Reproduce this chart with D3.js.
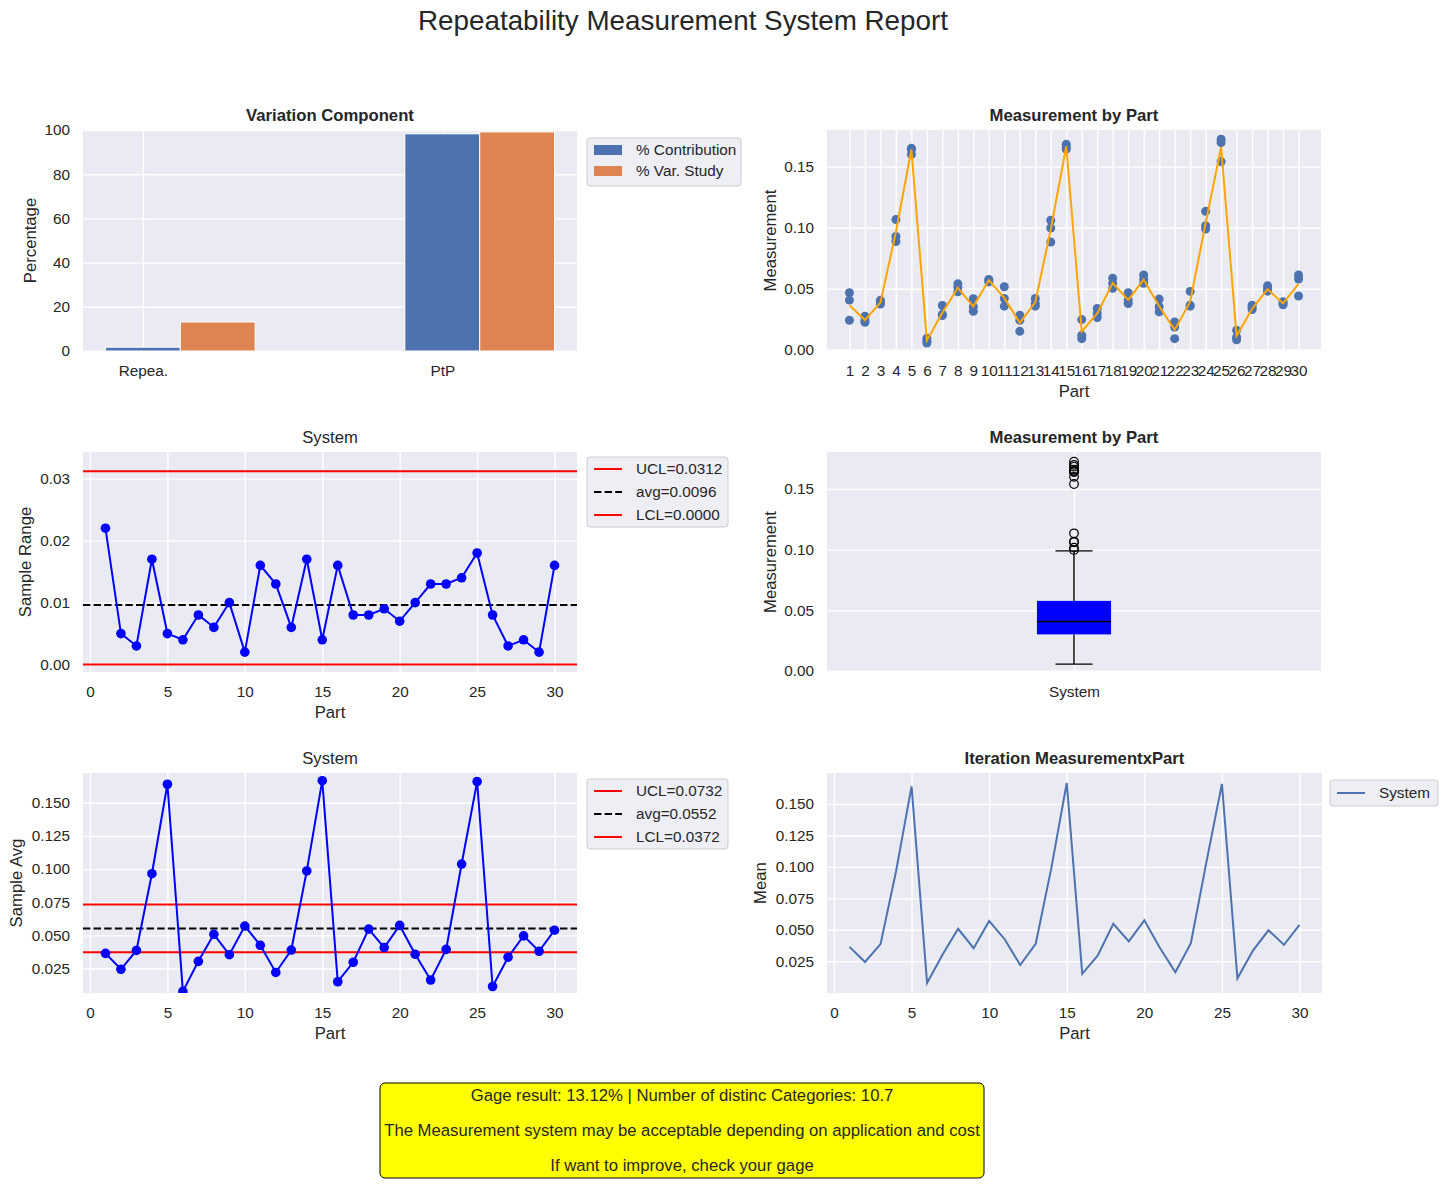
<!DOCTYPE html>
<html>
<head>
<meta charset="utf-8">
<script src="https://cdn.jsdelivr.net/npm/d3@7"></script>
<style>
  body { margin: 0; background: #fff; }
  svg text { font-family: "Liberation Sans", Arial, sans-serif; fill: #262626; }
</style>
</head>
<body>
<svg id="chart" width="1445" height="1184"></svg>
<script>
// ---- data ----
const components = ["Repea.", "PtP"];
const pctContribution = [1.72, 98.28];
const pctVarStudy = [13.12, 99.14];

const parts = [1, 2, 3, 4, 5, 6, 7, 8, 9, 10, 11, 12, 13, 14, 15, 16, 17, 18, 19, 20, 21, 22, 23, 24, 25, 26, 27, 28, 29, 30];

// three readings per part
const trialA = [0.0467, 0.0275, 0.0405, 0.1066, 0.1650, 0.0095, 0.0363, 0.0540, 0.0418, 0.0576,
                0.0516, 0.0283, 0.0420, 0.1060, 0.1684, 0.0247, 0.0338, 0.0585, 0.0467, 0.0613,
                0.0415, 0.0228, 0.0478, 0.1134, 0.1725, 0.0159, 0.0365, 0.0525, 0.0393, 0.0613];
const trialB = [0.0407, 0.0240, 0.0385, 0.0928, 0.1640, 0.0070, 0.0290, 0.0511, 0.0352, 0.0566,
                0.0420, 0.0242, 0.0380, 0.0997, 0.1660, 0.0118, 0.0297, 0.0544, 0.0407, 0.0577,
                0.0352, 0.0187, 0.0365, 0.1016, 0.1698, 0.0104, 0.0345, 0.0500, 0.0380, 0.0580];
const trialC = [0.0242, 0.0225, 0.0375, 0.0887, 0.1600, 0.0055, 0.0280, 0.0475, 0.0315, 0.0556,
                0.0357, 0.0151, 0.0357, 0.0882, 0.1643, 0.0091, 0.0264, 0.0503, 0.0379, 0.0544,
                0.0310, 0.0091, 0.0357, 0.0989, 0.1541, 0.0082, 0.0330, 0.0480, 0.0368, 0.0440];

const sampleRange = [0.022, 0.005, 0.003, 0.017, 0.005, 0.004, 0.008, 0.006, 0.010, 0.002,
                     0.016, 0.013, 0.006, 0.017, 0.004, 0.016, 0.008, 0.008, 0.009, 0.007,
                     0.010, 0.013, 0.013, 0.014, 0.018, 0.008, 0.003, 0.004, 0.002, 0.016];
const sampleAvg = [0.0364, 0.0244, 0.0386, 0.0965, 0.1640, 0.0077, 0.0304, 0.0508, 0.0354, 0.0570,
                   0.0425, 0.0220, 0.0389, 0.0986, 0.1667, 0.0150, 0.0297, 0.0547, 0.0408, 0.0575,
                   0.0357, 0.0163, 0.0394, 0.1038, 0.1660, 0.0114, 0.0335, 0.0496, 0.0380, 0.0539];

const rangeLimits = { ucl: 0.0312, avg: 0.0096, lcl: 0.0000 };
const avgLimits = { ucl: 0.0732, avg: 0.0552, lcl: 0.0372 };

const reportLines = [
    "Gage result: 13.12% | Number of distinc Categories: 10.7",
    "The Measurement system may be acceptable depending on application and cost",
    "If want to improve, check your gage"
];

// ---- style ----
const BLUE = "#4C72B0", ORANGE = "#DD8452", BG = "#EAEAF2";
const TICK_FS = "15.3px", LABEL_FS = "16.7px";

const svg = d3.select("#chart");
let clipId = 0;

function styleAxis(sel) {
    sel.attr("font-size", null).attr("font-family", null);
    sel.select(".domain").remove();
    sel.selectAll(".tick line").attr("stroke", "#fff").attr("stroke-width", 1.4);
    sel.selectAll(".tick text").style("font-size", TICK_FS).attr("fill", "#262626");
}

// draws background, grid and tick labels; returns group + clipped group
function makePanel(box, x, y, opt) {
    const g = svg.append("g").attr("transform", `translate(${box.left},${box.top})`);
    g.append("rect").attr("width", box.w).attr("height", box.h).attr("fill", BG);

    const xa = d3.axisBottom(x).tickSize(-box.h).tickPadding(14);
    if (opt.xTicks) xa.tickValues(opt.xTicks);
    if (opt.xFormat) xa.tickFormat(opt.xFormat);
    g.append("g").attr("transform", `translate(0,${box.h})`).call(xa).call(styleAxis);

    const ya = d3.axisLeft(y).tickSize(-box.w).tickPadding(13)
        .tickValues(opt.yTicks).tickFormat(opt.yFormat);
    g.append("g").call(ya).call(styleAxis);

    g.append("text")
        .attr("x", box.w / 2).attr("y", -9)
        .attr("text-anchor", "middle")
        .style("font-size", LABEL_FS)
        .style("font-weight", opt.bold ? "bold" : "normal")
        .text(opt.title);

    if (opt.xLabel) {
        g.append("text")
            .attr("x", box.w / 2).attr("y", box.h + 46)
            .attr("text-anchor", "middle")
            .style("font-size", LABEL_FS)
            .text(opt.xLabel);
    }
    if (opt.yLabel) {
        g.append("text")
            .attr("transform", `translate(${opt.yLabelX},${box.h / 2}) rotate(-90)`)
            .attr("text-anchor", "middle")
            .attr("dy", "0.35em")
            .style("font-size", LABEL_FS)
            .text(opt.yLabel);
    }

    const id = "clip" + (clipId++);
    g.append("clipPath").attr("id", id)
        .append("rect").attr("width", box.w).attr("height", box.h);
    const plot = g.append("g").attr("clip-path", `url(#${id})`);
    return { g, plot };
}

function legend(left, top, w, h, items, rowStart, rowStep) {
    const g = svg.append("g").attr("transform", `translate(${left},${top})`);
    g.append("rect").attr("width", w).attr("height", h).attr("rx", 3)
        .attr("fill", BG).attr("fill-opacity", 0.8)
        .attr("stroke", "#cccccc").attr("stroke-width", 1);
    items.forEach((it, i) => {
        const cy = rowStart + i * rowStep;
        if (it.type === "patch") {
            g.append("rect").attr("x", 7).attr("y", cy - 5).attr("width", 28).attr("height", 10)
                .attr("fill", it.color);
        } else {
            g.append("line").attr("x1", 7).attr("x2", 35).attr("y1", cy).attr("y2", cy)
                .attr("stroke", it.color).attr("stroke-width", 2)
                .attr("stroke-dasharray", it.dash || null);
        }
        g.append("text").attr("x", 49).attr("y", cy).attr("dy", "0.35em")
            .style("font-size", TICK_FS).text(it.label);
    });
}

// ---- suptitle ----
svg.append("text")
    .attr("x", 683).attr("y", 30)
    .attr("text-anchor", "middle")
    .style("font-size", "27.8px")
    .text("Repeatability Measurement System Report");

const fmt2 = d3.format(".2f"), fmt3 = d3.format(".3f");
const partX = (box) => d3.scaleLinear().domain([-0.45, 31.45]).range([0, box.w]);

// ---- 1. Variation Component ----
{
    const box = { left: 83, top: 130, w: 494, h: 221 };
    const x = d3.scaleLinear().domain([-0.2, 1.45]).range([0, box.w]);
    const y = d3.scaleLinear().domain([0, 100]).range([box.h, 0]);
    const { plot } = makePanel(box, x, y, {
        xTicks: [0, 1], xFormat: i => components[i],
        yTicks: [0, 20, 40, 60, 80, 100], yFormat: d3.format("d"),
        title: "Variation Component", bold: true,
        yLabel: "Percentage", yLabelX: -53
    });
    const bw = 0.25;
    const series = [
        { vals: pctContribution, off: 0, color: BLUE },
        { vals: pctVarStudy, off: bw, color: ORANGE }
    ];
    series.forEach(s => {
        plot.selectAll(null).data(s.vals).join("rect")
            .attr("x", (d, i) => x(i + s.off - bw / 2))
            .attr("width", x(bw) - x(0))
            .attr("y", d => y(d))
            .attr("height", d => y(0) - y(d))
            .attr("fill", s.color)
            .attr("stroke", "#fff").attr("stroke-width", 1);
    });
    legend(587, 138, 154, 48, [
        { type: "patch", color: BLUE, label: "% Contribution" },
        { type: "patch", color: ORANGE, label: "% Var. Study" }
    ], 12, 21);
}

// ---- 2. Measurement by Part (scatter) ----
{
    const box = { left: 827, top: 130, w: 494, h: 221 };
    const x = partX(box);
    const y = d3.scaleLinear().domain([-0.001, 0.180]).range([box.h, 0]);
    const { plot } = makePanel(box, x, y, {
        xTicks: parts, xFormat: d3.format("d"),
        yTicks: [0, 0.05, 0.10, 0.15], yFormat: fmt2,
        title: "Measurement by Part", bold: true,
        xLabel: "Part", yLabel: "Measurement", yLabelX: -57
    });
    [trialA, trialB, trialC].forEach(tr => {
        plot.selectAll(null).data(tr).join("circle")
            .attr("cx", (d, i) => x(parts[i]))
            .attr("cy", d => y(d))
            .attr("r", 4.5)
            .attr("fill", BLUE);
    });
    plot.append("path")
        .datum(sampleAvg)
        .attr("fill", "none").attr("stroke", "#FFA500").attr("stroke-width", 2)
        .attr("d", d3.line().x((d, i) => x(parts[i])).y(d => y(d)));
}

// ---- control chart helper ----
function controlChart(box, domain, yTicks, yFormat, vals, limits, yLabel, yLabelX, legTop, legLabels) {
    const x = partX(box);
    const y = d3.scaleLinear().domain(domain).range([box.h, 0]);
    const { plot } = makePanel(box, x, y, {
        xTicks: [0, 5, 10, 15, 20, 25, 30], xFormat: d3.format("d"),
        yTicks, yFormat,
        title: "System", bold: false,
        xLabel: "Part", yLabel, yLabelX
    });
    [
        { v: limits.ucl, color: "red", dash: null },
        { v: limits.avg, color: "black", dash: "7.4,3.2" },
        { v: limits.lcl, color: "red", dash: null }
    ].forEach(l => {
        plot.append("line")
            .attr("x1", 0).attr("x2", box.w)
            .attr("y1", y(l.v)).attr("y2", y(l.v))
            .attr("stroke", l.color).attr("stroke-width", 2)
            .attr("stroke-dasharray", l.dash);
    });
    plot.append("path").datum(vals)
        .attr("fill", "none").attr("stroke", "blue").attr("stroke-width", 2)
        .attr("d", d3.line().x((d, i) => x(parts[i])).y(d => y(d)));
    plot.selectAll(null).data(vals).join("circle")
        .attr("cx", (d, i) => x(parts[i]))
        .attr("cy", d => y(d))
        .attr("r", 4.8)
        .attr("fill", "blue");
    legend(587, legTop, 141, 70, [
        { type: "line", color: "red", label: legLabels[0] },
        { type: "line", color: "black", dash: "7.4,3.2", label: legLabels[1] },
        { type: "line", color: "red", label: legLabels[2] }
    ], 12, 23);
}

// ---- 3. Range chart ----
controlChart({ left: 83, top: 452, w: 494, h: 220 }, [-0.0012, 0.0343],
    [0, 0.01, 0.02, 0.03], fmt2, sampleRange, rangeLimits, "Sample Range", -58, 457,
    ["UCL=" + rangeLimits.ucl.toFixed(4), "avg=" + rangeLimits.avg.toFixed(4), "LCL=" + rangeLimits.lcl.toFixed(4)]);

// ---- 5. Average chart ----
controlChart({ left: 83, top: 773, w: 494, h: 220 }, [0.0065, 0.1725],
    [0.025, 0.05, 0.075, 0.10, 0.125, 0.15], fmt3, sampleAvg, avgLimits, "Sample Avg", -67, 779,
    ["UCL=" + avgLimits.ucl.toFixed(4), "avg=" + avgLimits.avg.toFixed(4), "LCL=" + avgLimits.lcl.toFixed(4)]);

// ---- 4. Box plot ----
{
    const box = { left: 827, top: 452, w: 494, h: 220 };
    const x = d3.scaleLinear().domain([0.5, 1.5]).range([0, box.w]);
    const y = d3.scaleLinear().domain([-0.001, 0.1805]).range([box.h, 0]);
    const { plot } = makePanel(box, x, y, {
        xTicks: [1], xFormat: () => "System",
        yTicks: [0, 0.05, 0.10, 0.15], yFormat: fmt2,
        title: "Measurement by Part", bold: true,
        yLabel: "Measurement", yLabelX: -57
    });
    const all = trialA.concat(trialB, trialC).sort(d3.ascending);
    const q1 = d3.quantile(all, 0.25), med = d3.quantile(all, 0.5), q3 = d3.quantile(all, 0.75);
    const iqr = q3 - q1;
    const lo = d3.min(all.filter(v => v >= q1 - 1.5 * iqr));
    const hi = d3.max(all.filter(v => v <= q3 + 1.5 * iqr));
    const fliers = all.filter(v => v < lo || v > hi);
    const bw = 0.15;
    plot.append("line").attr("x1", x(1)).attr("x2", x(1)).attr("y1", y(q3)).attr("y2", y(hi))
        .attr("stroke", "black").attr("stroke-width", 1.4);
    plot.append("line").attr("x1", x(1)).attr("x2", x(1)).attr("y1", y(q1)).attr("y2", y(lo))
        .attr("stroke", "black").attr("stroke-width", 1.4);
    [lo, hi].forEach(v => plot.append("line")
        .attr("x1", x(1 - bw / 4)).attr("x2", x(1 + bw / 4)).attr("y1", y(v)).attr("y2", y(v))
        .attr("stroke", "black").attr("stroke-width", 1.4));
    plot.append("rect")
        .attr("x", x(1 - bw / 2)).attr("width", x(1 + bw / 2) - x(1 - bw / 2))
        .attr("y", y(q3)).attr("height", y(q1) - y(q3))
        .attr("fill", "blue");
    plot.append("line").attr("x1", x(1 - bw / 2)).attr("x2", x(1 + bw / 2))
        .attr("y1", y(med)).attr("y2", y(med))
        .attr("stroke", "black").attr("stroke-width", 1.4);
    plot.selectAll(null).data(fliers).join("circle")
        .attr("cx", x(1)).attr("cy", d => y(d)).attr("r", 4.3)
        .attr("fill", "none").attr("stroke", "black").attr("stroke-width", 1.2);
}

// ---- 6. Iteration Measurement x Part ----
{
    const box = { left: 827, top: 773, w: 495, h: 220 };
    const x = partX(box);
    const ext = d3.extent(sampleAvg), pad = (ext[1] - ext[0]) * 0.05;
    const y = d3.scaleLinear().domain([ext[0] - pad, ext[1] + pad]).range([box.h, 0]);
    const { plot } = makePanel(box, x, y, {
        xTicks: [0, 5, 10, 15, 20, 25, 30], xFormat: d3.format("d"),
        yTicks: [0.025, 0.05, 0.075, 0.10, 0.125, 0.15], yFormat: fmt3,
        title: "Iteration MeasurementxPart", bold: true,
        xLabel: "Part", yLabel: "Mean", yLabelX: -67
    });
    plot.append("path").datum(sampleAvg)
        .attr("fill", "none").attr("stroke", BLUE).attr("stroke-width", 2)
        .attr("d", d3.line().x((d, i) => x(parts[i])).y(d => y(d)));
    legend(1330, 780, 108, 26, [{ type: "line", color: BLUE, label: "System" }], 13, 23);
}

// ---- result box ----
{
    const g = svg.append("g");
    g.append("rect").attr("x", 380).attr("y", 1083).attr("width", 604).attr("height", 95)
        .attr("rx", 5).attr("fill", "#FFFF00").attr("stroke", "black").attr("stroke-width", 1);
    g.selectAll(null).data(reportLines).join("text")
        .attr("x", 682).attr("y", (d, i) => 1101 + i * 35)
        .attr("text-anchor", "middle")
        .style("font-size", "16.7px")
        .text(d => d);
}
</script>
</body>
</html>
